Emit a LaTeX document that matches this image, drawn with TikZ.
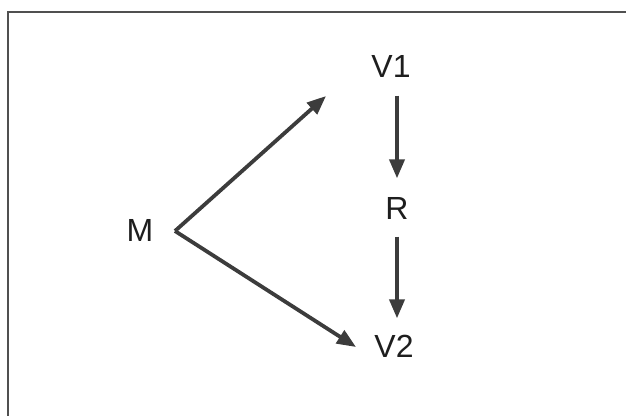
\documentclass[tikz,border=0pt]{standalone}
\usepackage{fontspec}
\setmainfont{Liberation Sans}
\usetikzlibrary{arrows.meta}
\definecolor{arrowgray}{HTML}{3C3C3C}
\definecolor{framegray}{HTML}{505050}
\definecolor{textgray}{HTML}{1E1E1E}
\begin{document}
\begin{tikzpicture}[x=1bp,y=-1bp,
  lbl/.style={inner sep=0pt, text height=22.9bp, text depth=0pt, font=\fontsize{32bp}{38bp}\selectfont, text=textgray},
  arr/.style={draw=arrowgray, line width=3.8bp, -{Triangle[length=19bp,width=15bp]}},
  frame/.style={draw=framegray, line width=2.4bp}]
\useasboundingbox (0,0) rectangle (626,415);
\draw[frame] (8,416) -- (8,12) -- (627,12);
\node[lbl] (M) at (140,230) {M};
\node[lbl] (V1) at (391,66) {V1};
\node[lbl] (R) at (397,208) {R};
\node[lbl] (V2) at (394,346) {V2};
\coordinate (S) at (175,231);
\coordinate (T1) at (326,96);
\coordinate (T2) at (356,347);
\draw[arr] (S) -- (T1);
\draw[arr] (S) -- (T2);
\draw[arr, shorten <=18bp, shorten >=18bp] (R.north |- V1.south) -- (R.north);
\draw[arr, shorten <=17bp, shorten >=16bp] (R.south) -- (R.south |- V2.north);
\end{tikzpicture}
\end{document}
